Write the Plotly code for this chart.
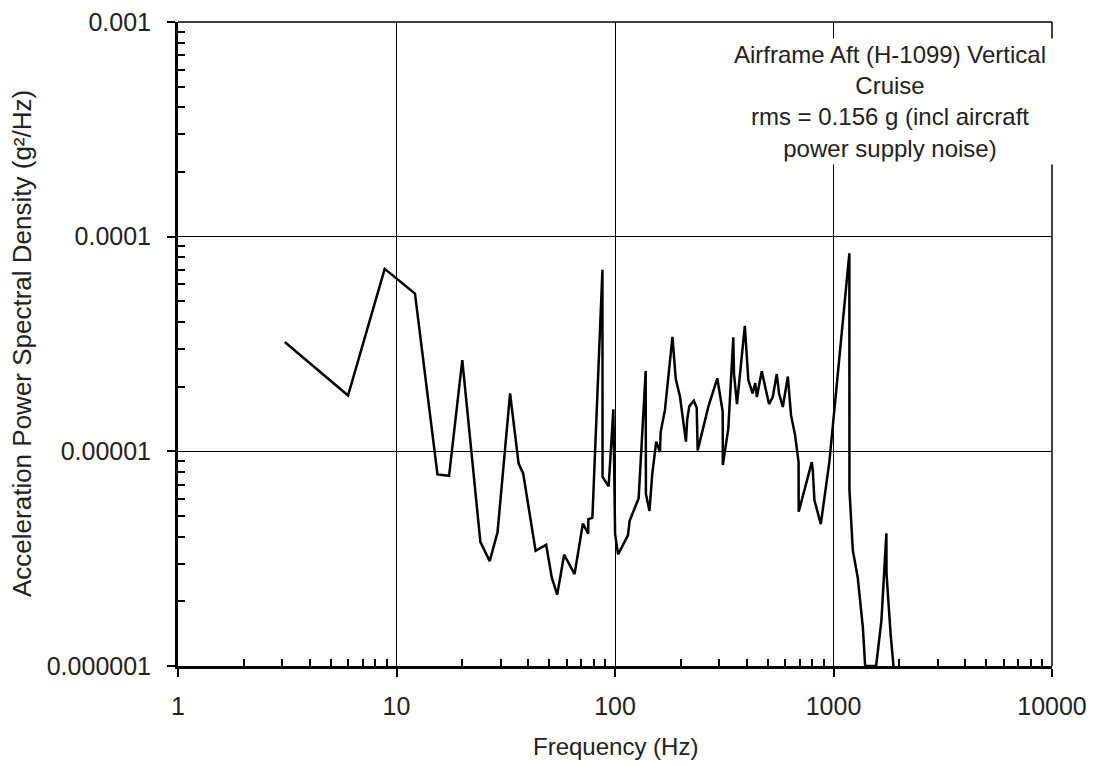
import plotly.graph_objects as go

# Frequency (Hz) and acceleration PSD (g^2/Hz) for the airframe aft vertical cruise measurement
freq_hz = [
    3.08, 6.0, 8.83, 12.15, 15.4, 17.4, 20.0, 24.2, 26.7, 29.0,
    33.1, 36.2, 38.0, 43.3, 48.4, 51.4, 54.4, 58.5, 65.3, 71.3,
    75.4, 75.5, 78.8, 87.6, 87.7, 93.5, 98.3, 100.1, 103.3, 114.6,
    116.7, 128.3, 138.2, 138.5, 143.8, 148.0, 154.4, 160.6, 161.8, 169.3,
    183.2, 189.7, 198.3, 211.2, 214.1, 218.8, 229.4, 236.5, 239.0, 253.5,
    267.3, 293.9, 311.1, 311.5, 330.1, 347.9, 350.5, 361.7, 392.8, 407.6,
    426.1, 438.5, 445.9, 469.5, 507.0, 527.2, 550.0, 563.5, 586.0, 618.1,
    639.4, 667.0, 692.1, 693.0, 795.6, 804.0, 817.6, 874.7, 957.7, 1182.0,
    1183.0, 1226.0, 1290.0, 1362.0, 1396.0, 1567.0, 1656.0, 1746.0, 1748.0, 1827.0,
    1882.0,
]
psd_g2_hz = [
    3.23e-5, 1.82e-5, 7.08e-5, 5.43e-5, 7.81e-6, 7.69e-6, 2.66e-5, 3.79e-6, 3.08e-6, 4.20e-6,
    1.86e-5, 8.79e-6, 7.89e-6, 3.44e-6, 3.67e-6, 2.57e-6, 2.15e-6, 3.30e-6, 2.68e-6, 4.61e-6,
    4.13e-6, 4.83e-6, 4.90e-6, 7.01e-5, 7.61e-6, 6.87e-6, 1.57e-5, 4.11e-6, 3.31e-6, 4.06e-6,
    4.75e-6, 6.04e-6, 2.37e-5, 6.32e-6, 5.28e-6, 7.80e-6, 1.11e-5, 9.92e-6, 1.23e-5, 1.56e-5,
    3.41e-5, 2.17e-5, 1.80e-5, 1.11e-5, 1.41e-5, 1.62e-5, 1.72e-5, 1.60e-5, 1.01e-5, 1.27e-5,
    1.61e-5, 2.19e-5, 1.53e-5, 8.63e-6, 1.28e-5, 3.40e-5, 2.29e-5, 1.66e-5, 3.84e-5, 2.15e-5,
    1.86e-5, 2.08e-5, 1.79e-5, 2.36e-5, 1.66e-5, 1.79e-5, 2.29e-5, 1.86e-5, 1.61e-5, 2.23e-5,
    1.47e-5, 1.19e-5, 8.91e-6, 5.23e-6, 8.91e-6, 8.18e-6, 5.93e-6, 4.58e-6, 8.96e-6, 8.37e-5,
    6.60e-6, 3.45e-6, 2.60e-6, 1.52e-6, 1.0e-6, 1.0e-6, 1.62e-6, 4.15e-6, 2.70e-6, 1.39e-6,
    1.0e-6,
]

x_tick_vals = [1, 10, 100, 1000, 10000]
x_tick_text = ["1", "10", "100", "1000", "10000"]
y_tick_vals = [1e-6, 1e-5, 1e-4, 1e-3]
y_tick_text = ["0.000001", "0.00001", "0.0001", "0.001"]

info_lines = [
    "Airframe Aft (H-1099) Vertical",
    "Cruise",
    "rms = 0.156 g (incl aircraft",
    "power supply noise)",
]

FONT = "Liberation Sans, Arial, sans-serif"
TXT = "#222222"

x_minor = [m * 10 ** d for d in range(0, 4) for m in range(2, 10)]
y_minor = [m * 10.0 ** d for d in range(-6, -3) for m in range(2, 10)]

fig = go.Figure()
fig.add_trace(go.Scatter(
    x=freq_hz, y=psd_g2_hz, mode="lines",
    line=dict(color="black", width=2.5),
    showlegend=False, hoverinfo="x+y",
))

common_axis = dict(
    type="log",
    showline=True, linecolor="black",
    showgrid=True, gridcolor="black", gridwidth=1,
    zeroline=False,
    ticks="outside", ticklen=8, tickwidth=2, tickcolor="black",
    tickfont=dict(family=FONT, size=25, color=TXT),
    tickmode="array",
)

fig.update_xaxes(
    **common_axis,
    range=[0, 4], linewidth=2.5,
    tickvals=x_tick_vals, ticktext=x_tick_text,
    ticklabelstandoff=8,
    minor=dict(tickvals=x_minor, ticks="inside", ticklen=7, tickwidth=2,
               tickcolor="black", showgrid=False),
)
fig.update_yaxes(
    **common_axis,
    range=[-6, -3], linewidth=3,
    tickvals=y_tick_vals, ticktext=y_tick_text,
    ticklabelstandoff=11,
    minor=dict(tickvals=y_minor, ticks="inside", ticklen=7, tickwidth=2,
               tickcolor="black", showgrid=False),
)

# thin frame along the top and right edges of the plot area
fig.add_shape(type="line", xref="paper", yref="paper", x0=0, x1=1, y0=1, y1=1,
              line=dict(color="black", width=1.5), layer="above")
fig.add_shape(type="line", xref="paper", yref="paper", x0=1, x1=1, y0=0, y1=1,
              line=dict(color="black", width=1.5), layer="above")

# info box in the upper right corner
fig.add_annotation(
    xref="paper", yref="paper", x=0.8146, y=0.876,
    xanchor="center", yanchor="middle",
    text="<br>".join(info_lines), align="center", showarrow=False,
    font=dict(family=FONT, size=24, color=TXT),
    bgcolor="white", borderpad=2, width=322,
)

# axis titles
fig.add_annotation(
    xref="paper", yref="paper", x=0, y=0.5, xanchor="center", yanchor="middle",
    xshift=-156, textangle=-90, showarrow=False,
    text="Acceleration Power Spectral Density (g²/Hz)",
    font=dict(family=FONT, size=26, color=TXT),
)
fig.add_annotation(
    xref="paper", yref="paper", x=0.5, y=0, xanchor="center", yanchor="middle",
    yshift=-80, showarrow=False,
    text="Frequency (Hz)",
    font=dict(family=FONT, size=24, color=TXT),
)

fig.update_layout(
    width=1096, height=767,
    margin=dict(l=178, r=44, t=22, b=101, autoexpand=False),
    paper_bgcolor="white", plot_bgcolor="white",
    showlegend=False,
    font=dict(family=FONT, color=TXT),
)

fig.write_html("out.html", include_plotlyjs=True, full_html=True,
               config={"displayModeBar": False})
